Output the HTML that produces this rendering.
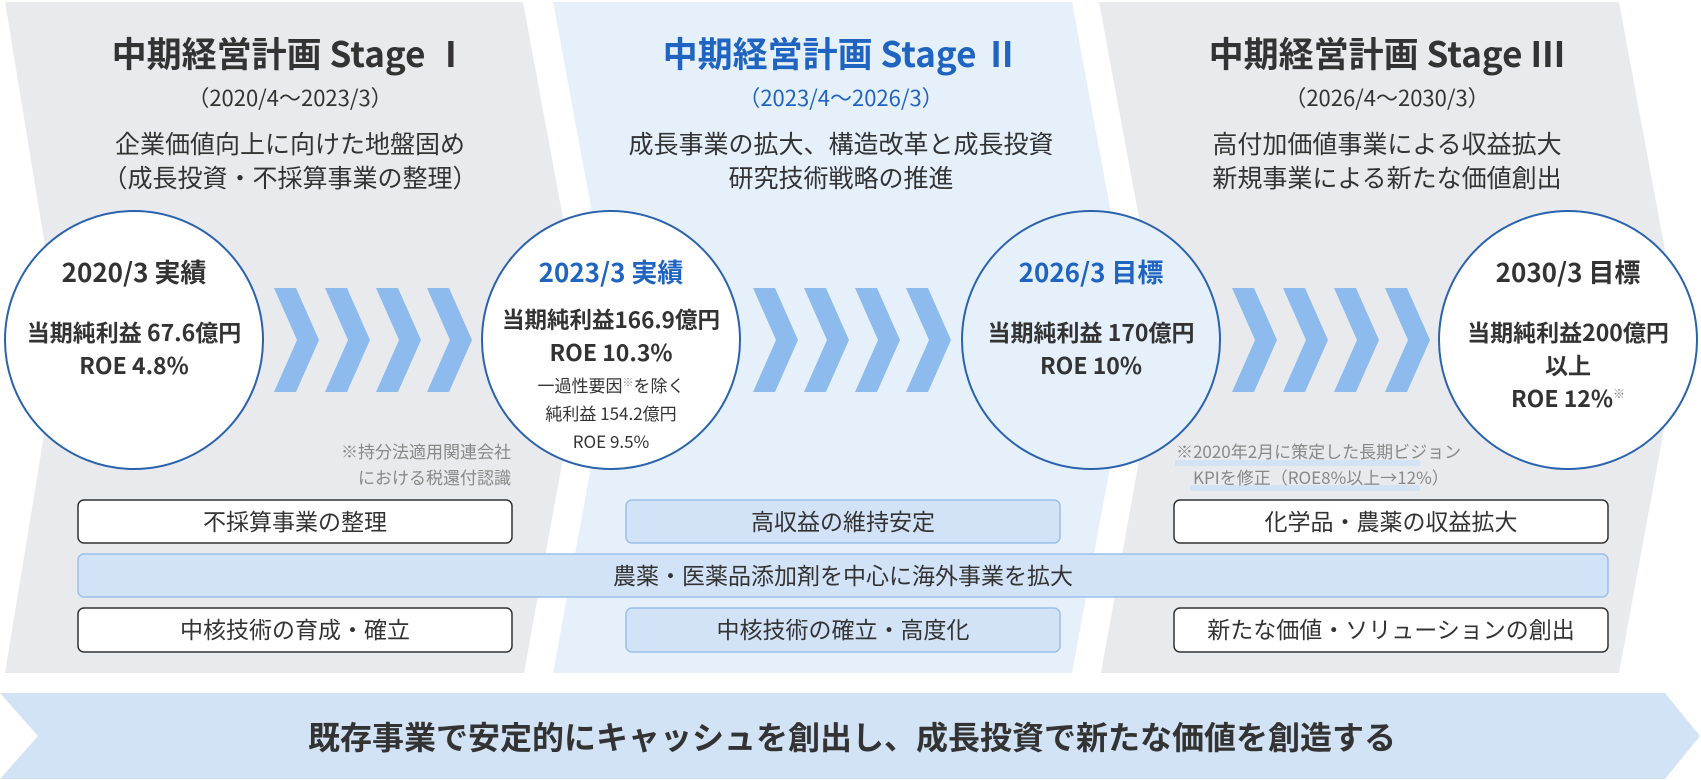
<!DOCTYPE html>
<html><head><meta charset="utf-8"><style>
html,body{margin:0;padding:0;background:#fff;}
svg{display:block;}
text{font-family:"Noto Sans CJK JP","Liberation Sans",sans-serif;}
</style></head><body>
<svg width="1701" height="780" viewBox="0 0 1701 780" xmlns="http://www.w3.org/2000/svg">
<defs>
<polygon id="chev" points="0,0 22,0 45,52 22,104 0,104 23,52" fill="#8dbbee"/>
</defs>
<polygon points="5,2 523,2 585,337 524,673 5,673 60,337" fill="#e9eaed"/>
<polygon points="553,2 1072,2 1134,337 1072,673 553,673 615,337" fill="#e5f0fb"/>
<polygon points="1099,2 1619,2 1681,337 1619,673 1101,673 1161,337" fill="#e9eaed"/>

<g text-anchor="middle" fill="#333">
<text x="290" y="67" font-size="35" font-weight="bold">中期経営計画 Stage Ⅰ</text>
<text x="290" y="106" font-size="22">（2020/4～2023/3）</text>
<text x="290" y="153" font-size="25">企業価値向上に向けた地盤固め</text>
<text x="290" y="187" font-size="25">（成長投資・不採算事業の整理）</text>

<text x="841" y="67" font-size="35" font-weight="bold" fill="#1f64c0">中期経営計画 Stage Ⅱ</text>
<text x="841" y="106" font-size="22" fill="#1f64c0">（2023/4～2026/3）</text>
<text x="841" y="153" font-size="25">成長事業の拡大、構造改革と成長投資</text>
<text x="841" y="187" font-size="25">研究技術戦略の推進</text>

<text x="1387" y="67" font-size="35" font-weight="bold">中期経営計画 Stage Ⅲ</text>
<text x="1387" y="106" font-size="22">（2026/4～2030/3）</text>
<text x="1387" y="153" font-size="25">高付加価値事業による収益拡大</text>
<text x="1387" y="187" font-size="25">新規事業による新たな価値創出</text>
</g>

<g transform="translate(274,288)"><use href="#chev"/><use href="#chev" x="51"/><use href="#chev" x="102"/><use href="#chev" x="153"/></g>
<g transform="translate(753,288)"><use href="#chev"/><use href="#chev" x="51"/><use href="#chev" x="102"/><use href="#chev" x="153"/></g>
<g transform="translate(1232,288)"><use href="#chev"/><use href="#chev" x="51"/><use href="#chev" x="102"/><use href="#chev" x="153"/></g>

<rect x="1175" y="460" width="245" height="6" fill="#d3e3f6"/>
<rect x="1190" y="485" width="230" height="6" fill="#d3e3f6"/>
<g font-size="17" fill="#888">
<text x="511" y="458" text-anchor="end">※持分法適用関連会社</text>
<text x="511" y="484" text-anchor="end">における税還付認識</text>
<text x="1176" y="458">※2020年2月に策定した長期ビジョン</text>
<text x="1193" y="484">KPIを修正（ROE8%以上→12%）</text>
</g>

<g stroke="#2a62ad" stroke-width="2">
<circle cx="134" cy="340" r="129" fill="#fff"/>
<circle cx="611" cy="340" r="129" fill="#fff"/>
<circle cx="1091" cy="340" r="129" fill="#e5f0fb"/>
<circle cx="1568" cy="340" r="129" fill="#fff"/>
</g>
<g text-anchor="middle" fill="#333" font-weight="bold">
<text x="134" y="282" font-size="26">2020/3 実績</text>
<text x="134" y="341" font-size="23">当期純利益 67.6億円</text>
<text x="134" y="374" font-size="23">ROE 4.8%</text>

<text x="611" y="282" font-size="26" fill="#1f64c0">2023/3 実績</text>
<text x="611" y="328" font-size="22.5">当期純利益166.9億円</text>
<text x="611" y="361" font-size="23">ROE 10.3%</text>

<text x="1091" y="282" font-size="26" fill="#1f64c0">2026/3 目標</text>
<text x="1091" y="341" font-size="23">当期純利益 170億円</text>
<text x="1091" y="374" font-size="23">ROE 10%</text>

<text x="1568" y="282" font-size="26">2030/3 目標</text>
<text x="1568" y="341" font-size="23">当期純利益200億円</text>
<text x="1568" y="374" font-size="23">以上</text>
<text x="1568" y="407" font-size="23">ROE 12%<tspan font-size="12" font-weight="normal" dy="-9" fill="#888">※</tspan></text>
</g>
<g text-anchor="middle" fill="#333" font-size="17">
<text x="611" y="392">一過性要因<tspan font-size="11" dy="-6" fill="#888">※</tspan><tspan dy="6">を除く</tspan></text>
<text x="611" y="420">純利益 154.2億円</text>
<text x="611" y="448">ROE 9.5%</text>
</g>

<g stroke-width="1.5">
<rect x="78" y="500" width="434" height="43" rx="6" fill="#fff" stroke="#333"/>
<rect x="626" y="500" width="434" height="43" rx="6" fill="#d3e3f7" stroke="#9cc0ea"/>
<rect x="1174" y="500" width="434" height="43" rx="6" fill="#fff" stroke="#333"/>
<rect x="78" y="554" width="1530" height="43" rx="6" fill="#d3e3f7" stroke="#9cc0ea"/>
<rect x="78" y="608" width="434" height="44" rx="6" fill="#fff" stroke="#333"/>
<rect x="626" y="608" width="434" height="44" rx="6" fill="#d3e3f7" stroke="#9cc0ea"/>
<rect x="1174" y="608" width="434" height="44" rx="6" fill="#fff" stroke="#333"/>
</g>
<g text-anchor="middle" fill="#333" font-size="23">
<text x="295" y="530">不採算事業の整理</text>
<text x="843" y="530">高収益の維持安定</text>
<text x="1391" y="530">化学品・農薬の収益拡大</text>
<text x="843" y="584">農薬・医薬品添加剤を中心に海外事業を拡大</text>
<text x="295" y="638">中核技術の育成・確立</text>
<text x="843" y="638">中核技術の確立・高度化</text>
<text x="1391" y="638">新たな価値・ソリューションの創出</text>
</g>

<polygon points="0,693 1665,693 1700,736 1665,779 0,779 38,736" fill="#d3e3f6"/>
<text x="852" y="749" text-anchor="middle" font-size="32" font-weight="bold" fill="#333">既存事業で安定的にキャッシュを創出し、成長投資で新たな価値を創造する</text>
</svg>
</body></html>
